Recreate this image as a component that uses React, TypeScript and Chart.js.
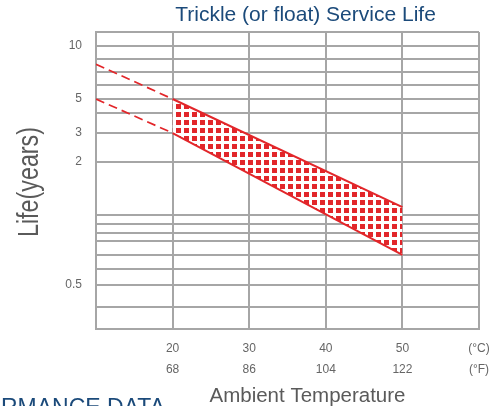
import React, { useEffect, useRef } from 'react';
import { Chart, LinearScale, registerables } from 'chart.js';

// ---- texts ----
const TITLE = 'Trickle (or float) Service Life';
const Y_TITLE = 'Life(years)';
const X_TITLE = 'Ambient Temperature';
const FOOTER = 'PERFORMANCE DATA';

// ---- x axis (temperature) ----
const tempC = [10, 20, 30, 40, 50, 60];
const tempCLabels = ['', '20', '30', '40', '50', '(°C)'];
const tempFLabels = ['', '68', '86', '104', '122', '(°F)'];

// ---- service-life band (years) ----
const bandTemps = [20, 50];
const bandUpperLife = [5, 1.15];
const bandLowerLife = [3, 0.7];

// ---- dashed extrapolation below 20°C ----
const extTemps = [10, 20];
const extUpperLife = [7.6, 5];
const extLowerLife = [5, 3];

// ---- y axis (printed, non-uniform life scale) ----
const yGridValues = [12, 10, 8, 7, 6, 5, 4, 3, 2, 1, 0.9, 0.8, 0.75, 0.7, 0.6, 0.5, 0.4, 0.3];
const yTickLabels = [10, 5, 3, 2, 0.5];

// layout of the printed y scale: fraction of plot height from top for each grid value
const Y_GRID_POS = [0, 0.0471, 0.0909, 0.1347, 0.1785, 0.2256, 0.2727, 0.3401, 0.4377, 0.6162,
  0.6465, 0.6768, 0.7037, 0.7508, 0.798, 0.8519, 0.9259, 1];

const RED = '#e2262a';
const GRID = '#a6a6a6';
const BLUE = '#1b4a7a';
const GREY_TEXT = '#5a5a5a';
const FONT = '"Liberation Sans", Arial, sans-serif';

function fracFromTop(value: number): number {
  const v = yGridValues;
  const p = Y_GRID_POS;
  const n = v.length;
  let i = 0;
  if (value >= v[0]) i = 0;
  else if (value <= v[n - 1]) i = n - 2;
  else {
    for (let k = 0; k < n - 1; k++) {
      if (value <= v[k] && value >= v[k + 1]) { i = k; break; }
    }
  }
  const t = (v[i] - value) / (v[i] - v[i + 1]);
  return p[i] + t * (p[i + 1] - p[i]);
}

function valueFromFrac(f: number): number {
  const v = yGridValues;
  const p = Y_GRID_POS;
  const n = p.length;
  let i = 0;
  if (f <= p[0]) i = 0;
  else if (f >= p[n - 1]) i = n - 2;
  else {
    for (let k = 0; k < n - 1; k++) {
      if (f >= p[k] && f <= p[k + 1]) { i = k; break; }
    }
  }
  const t = (f - p[i]) / (p[i + 1] - p[i]);
  return v[i] + t * (v[i + 1] - v[i]);
}

class PrintedLifeScale extends LinearScale {
  static id = 'printedLife';
  determineDataLimits() {
    (this as any).min = Math.min(...yGridValues);
    (this as any).max = Math.max(...yGridValues);
  }
  buildTicks() {
    return yGridValues.map((value) => ({ value }));
  }
  getPixelForValue(value: number) {
    return (this as any).getPixelForDecimal(1 - fracFromTop(value));
  }
  getValueForPixel(pixel: number) {
    return valueFromFrac(1 - (this as any).getDecimalForPixel(pixel));
  }
}

Chart.register(...registerables, PrintedLifeScale as any);

const textPlugin = {
  id: 'printedTexts',
  afterDraw(chart: any) {
    const { ctx } = chart;
    ctx.save();
    // main title
    ctx.fillStyle = BLUE;
    ctx.font = `21px ${FONT}`;
    ctx.textAlign = 'center';
    ctx.textBaseline = 'alphabetic';
    ctx.fillText(TITLE, 305.5, 21);
    // x axis title
    ctx.fillStyle = GREY_TEXT;
    ctx.font = `20.5px ${FONT}`;
    ctx.fillText(X_TITLE, 307.5, 402);
    // y axis title (condensed)
    ctx.save();
    ctx.translate(38, 182);
    ctx.rotate(-Math.PI / 2);
    ctx.font = `30px ${FONT}`;
    ctx.textAlign = 'center';
    ctx.fillText(Y_TITLE, 0, 0, 110);
    ctx.restore();
    // page heading below the chart (cut off)
    ctx.fillStyle = BLUE;
    ctx.font = `23px ${FONT}`;
    ctx.textAlign = 'right';
    ctx.fillText(FOOTER, 165, 414.5);
    ctx.restore();
  },
};

export default function App() {
  const ref = useRef<HTMLCanvasElement | null>(null);

  useEffect(() => {
    const canvas = ref.current;
    if (!canvas) return;
    const ctx = canvas.getContext('2d')!;

    const tile = document.createElement('canvas');
    tile.width = 8;
    tile.height = 8;
    const tctx = tile.getContext('2d')!;
    tctx.fillStyle = '#ffffff';
    tctx.fillRect(0, 0, 8, 8);
    tctx.fillStyle = RED;
    tctx.fillRect(0, 0, 5, 5);
    const pattern = ctx.createPattern(tile, 'repeat');

    const pts = (xs: number[], ys: number[]) => xs.map((x, i) => ({ x, y: ys[i] }));

    const chart = new Chart(ctx, {
      type: 'line',
      data: {
        datasets: [
          {
            label: 'upper',
            data: pts(bandTemps, bandUpperLife),
            borderColor: RED,
            borderWidth: 2,
            backgroundColor: pattern as any,
            fill: '+1',
            pointRadius: 0,
          },
          {
            label: 'lower',
            data: pts(bandTemps, bandLowerLife),
            borderColor: RED,
            borderWidth: 2,
            fill: false,
            pointRadius: 0,
          },
          {
            label: 'upper-ext',
            data: pts(extTemps, extUpperLife),
            borderColor: RED,
            borderWidth: 1.7,
            borderDash: [9, 5],
            fill: false,
            pointRadius: 0,
          },
          {
            label: 'lower-ext',
            data: pts(extTemps, extLowerLife),
            borderColor: RED,
            borderWidth: 1.7,
            borderDash: [9, 5],
            fill: false,
            pointRadius: 0,
          },
        ],
      },
      options: {
        responsive: false,
        animation: false,
        events: [],
        layout: { padding: { top: 32, right: 12, left: 0, bottom: 0 } },
        plugins: {
          legend: { display: false },
          tooltip: { enabled: false },
          title: { display: false },
          filler: { drawTime: 'beforeDatasetsDraw' },
        },
        scales: {
          x: {
            type: 'linear',
            min: tempC[0],
            max: tempC[tempC.length - 1],
            afterBuildTicks: (scale: any) => {
              scale.ticks = tempC.map((value) => ({ value }));
            },
            afterFit: (scale: any) => {
              scale.height = 77;
              scale.paddingLeft = 0;
              scale.paddingRight = 0;
            },
            grid: { color: GRID, lineWidth: 2, drawTicks: false },
            border: { display: true, color: GRID, width: 2 },
            ticks: {
              autoSkip: false,
              maxRotation: 0,
              padding: 9,
              color: '#666666',
              font: { size: 12, family: FONT, lineHeight: 1.75 },
              callback: (_v: any, i: number) => [tempCLabels[i], tempFLabels[i]],
            },
          },
          y: {
            type: 'printedLife' as any,
            afterFit: (scale: any) => {
              scale.width = 96;
              scale.paddingTop = 0;
              scale.paddingBottom = 0;
            },
            grid: { color: GRID, lineWidth: 2, drawTicks: false },
            border: { display: true, color: GRID, width: 2 },
            ticks: {
              autoSkip: false,
              padding: 14,
              color: '#666666',
              font: { size: 12, family: FONT },
              callback: (v: any) => (yTickLabels.includes(Number(v)) ? String(v) : ''),
            },
          },
        },
      },
      plugins: [textPlugin],
    } as any);

    return () => chart.destroy();
  }, []);

  return (
    <div style={{ position: 'fixed', left: 0, top: 0, width: 491, height: 406, background: '#ffffff' }}>
      <canvas ref={ref} width={491} height={406} style={{ display: 'block' }} />
    </div>
  );
}
